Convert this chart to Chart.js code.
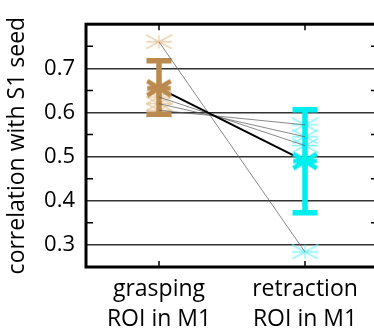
<!DOCTYPE html>
<html>
<head>
<meta charset="utf-8">
<script src="https://cdn.jsdelivr.net/npm/chart.js@4"></script>
<style>
  html, body { margin: 0; padding: 0; overflow: hidden; background: #fff; }
  #wrap { width: 384px; height: 330px; }
</style>
</head>
<body>
<div id="wrap"><canvas id="myChart" width="384" height="330"></canvas></div>
<script>
// data
var conditions = [1, 2];
var xLabels = [["grasping", "ROI in M1"], ["retraction", "ROI in M1"]];
var graspValues = [0.76, 0.635, 0.62, 0.605];
var retractValues = [0.284, 0.525, 0.545, 0.572];
var means = [0.655, 0.49];
var errLow = [0.596, 0.373];
var errHigh = [0.717, 0.606];
var yTicks = [0.3, 0.4, 0.5, 0.6, 0.7];
var minorTicks = [0.35, 0.45, 0.55, 0.65, 0.75];

var tan = 'rgb(186, 138, 78)';
var tanLight = 'rgb(232, 204, 166)';
var cyan = 'rgb(0, 238, 238)';
var cyanLight = 'rgb(130, 242, 250)';

// stretched asterisk marker like the matlab '*'
function makeStar(color, w, h, lw) {
    var c = document.createElement('canvas');
    c.width = w; c.height = h;
    var g = c.getContext('2d');
    var p = lw / 2;
    g.strokeStyle = color;
    g.lineWidth = lw;
    g.beginPath();
    g.moveTo(p, h / 2); g.lineTo(w - p, h / 2);
    g.moveTo(w / 2, p); g.lineTo(w / 2, h - p);
    g.moveTo(p, p); g.lineTo(w - p, h - p);
    g.moveTo(p, h - p); g.lineTo(w - p, p);
    g.stroke();
    return c;
}

var datasets = [];
// one thin line per subject
for (var i = 0; i < graspValues.length; i++) {
    datasets.push({
        label: 'subject' + i,
        data: [{x: conditions[0], y: graspValues[i]}, {x: conditions[1], y: retractValues[i]}],
        borderColor: 'rgba(90,90,90,0.9)',
        borderWidth: 0.8,
        pointRadius: 0,
        order: 3
    });
}
datasets.push({
    label: 'graspPoints',
    data: graspValues.map(function (v) { return {x: conditions[0], y: v}; }),
    showLine: false,
    pointStyle: makeStar(tanLight, 27, 15, 1.3),
    order: 7
});
datasets.push({
    label: 'retractPoints',
    data: retractValues.map(function (v) { return {x: conditions[1], y: v}; }),
    showLine: false,
    pointStyle: makeStar(cyanLight, 27, 15, 1.3),
    order: 6
});
datasets.push({
    label: 'meanLine',
    data: [{x: conditions[0], y: means[0]}, {x: conditions[1], y: means[1]}],
    borderColor: '#000',
    borderWidth: 2,
    pointRadius: 0,
    order: 2
});
datasets.push({
    label: 'graspMean',
    data: [{x: conditions[0], y: means[0]}],
    showLine: false,
    pointStyle: makeStar(tan, 28, 19, 4.5),
    order: 1
});
datasets.push({
    label: 'retractMean',
    data: [{x: conditions[1], y: means[1]}],
    showLine: false,
    pointStyle: makeStar(cyan, 28, 19, 4.5),
    order: 1
});

var errColors = [tan, cyan];

var extras = {
    id: 'extras',
    afterDatasetDraw: function (chart, args) {
        if (args.meta.label !== 'retractPoints') return;
        var ctx = chart.ctx, xs = chart.scales.x, ys = chart.scales.y;
        ctx.save();
        for (var k = 0; k < conditions.length; k++) {
            var x = xs.getPixelForValue(conditions[k]);
            var y1 = ys.getPixelForValue(errHigh[k]);
            var y2 = ys.getPixelForValue(errLow[k]);
            ctx.strokeStyle = errColors[k];
            ctx.lineWidth = 5.5;
            ctx.beginPath();
            ctx.moveTo(x, y1); ctx.lineTo(x, y2);
            ctx.moveTo(x - 12.5, y1); ctx.lineTo(x + 12.5, y1);
            ctx.moveTo(x - 12.5, y2); ctx.lineTo(x + 12.5, y2);
            ctx.stroke();
        }
        ctx.restore();
    },
    afterDraw: function (chart) {
        var ctx = chart.ctx, a = chart.chartArea;
        var xs = chart.scales.x, ys = chart.scales.y;
        ctx.save();
        ctx.strokeStyle = '#000';
        ctx.lineWidth = 1.5;
        ctx.beginPath();
        minorTicks.forEach(function (v) {
            var y = ys.getPixelForValue(v);
            ctx.moveTo(a.left, y); ctx.lineTo(a.left + 7, y);
            ctx.moveTo(a.right, y); ctx.lineTo(a.right - 7, y);
        });
        conditions.forEach(function (v) {
            var x = xs.getPixelForValue(v);
            ctx.moveTo(x, a.bottom); ctx.lineTo(x, a.bottom - 6);
            ctx.moveTo(x, a.top); ctx.lineTo(x, a.top + 6);
        });
        ctx.stroke();
        ctx.lineWidth = 3;
        ctx.strokeRect(a.left, a.top, a.right - a.left, a.bottom - a.top);
        ctx.restore();
    }
};

var myChart = new Chart(document.getElementById('myChart').getContext('2d'), {
    type: 'line',
    data: { datasets: datasets },
    plugins: [extras],
    options: {
        responsive: false,
        animation: false,
        layout: { padding: { top: 13, right: 6, left: 0, bottom: 0 } },
        plugins: { legend: { display: false }, tooltip: { enabled: false } },
        scales: {
            x: {
                type: 'linear',
                min: 0.5,
                max: 2.5,
                afterBuildTicks: function (scale) {
                    scale.ticks = conditions.map(function (v) { return {value: v}; });
                },
                afterFit: function (scale) { scale.height = 63; },
                grid: { display: false },
                border: { display: false },
                ticks: {
                    color: '#000',
                    padding: 0,
                    maxRotation: 0,
                    font: { family: 'Open Sans', size: 23, lineHeight: 1.28 },
                    callback: function (v, idx) { return xLabels[idx]; }
                }
            },
            y: {
                min: 0.25,
                max: 0.8,
                afterBuildTicks: function (scale) {
                    scale.ticks = yTicks.map(function (v) { return {value: v}; });
                },
                afterFit: function (scale) { scale.width = 86; },
                grid: { color: '#333', lineWidth: 1.5, drawTicks: false },
                border: { display: false },
                ticks: {
                    color: '#000',
                    padding: 11,
                    font: { family: 'Open Sans', size: 22 },
                    callback: function (v) { return v.toFixed(1); }
                },
                title: {
                    display: true,
                    text: 'correlation with S1 seed',
                    color: '#000',
                    padding: { top: 4, bottom: 0 },
                    font: { family: 'Open Sans', size: 23 }
                }
            }
        }
    }
});
</script>
</body>
</html>
